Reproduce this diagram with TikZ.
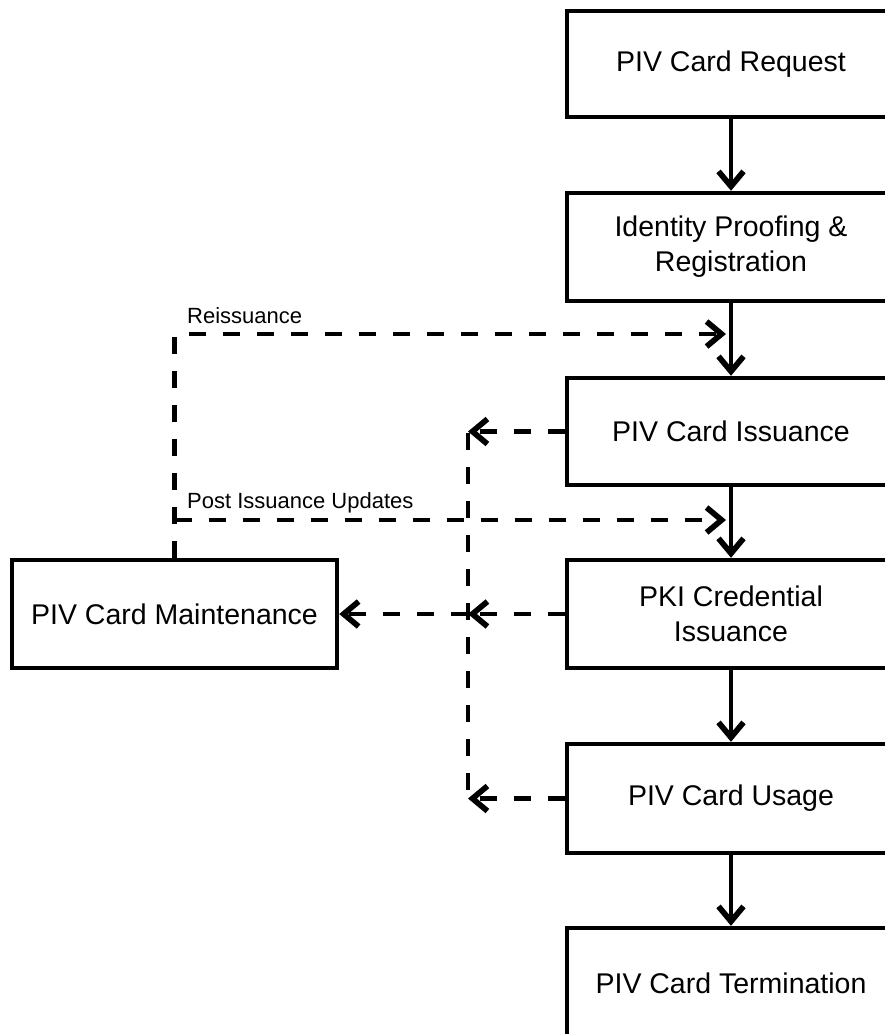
\documentclass[tikz,border=0pt]{standalone}
\usepackage{fontspec}
\setmainfont{Liberation Sans}
\usetikzlibrary{arrows.meta}
\tikzset{
  box/.style={draw, line width=4.4pt, fill=white, minimum width=328pt, minimum height=107pt,
    align=center, inner sep=0pt, font=\fontsize{28.5}{35}\selectfont},
  lbl/.style={inner sep=0pt, font=\fontsize{22}{26}\selectfont},
  tipstyle/.style={-{Straight Barb[length=15pt,width=25pt,line width=0pt 1.35]}},
  solidarrow/.style={line width=4.2pt, tipstyle},
  dashline/.style={line width=4.2pt, dash pattern=on 17pt off 17pt},
  dasharrow/.style={dashline, tipstyle}
}
\begin{document}
\begin{tikzpicture}[x=1pt,y=-1pt]
\useasboundingbox (0,0) rectangle (885,1034);
\clip (0,0) rectangle (885,1034);
\fill[white] (0,0) rectangle (885,1034);

\node[box, minimum height=106pt] (b1) at (731,64) {PIV Card Request};
\node[box, minimum height=108pt] (b2) at (731,247) {Identity Proofing \&\\Registration};
\node[box] (b3) at (731,431.5) {PIV Card Issuance};
\node[box, minimum height=108pt] (b4) at (731,614) {PKI Credential\\Issuance};
\node[box, minimum height=109pt] (b5) at (731,798.5) {PIV Card Usage};
\node[box, minimum height=110pt] (b6) at (731,983) {PIV Card Termination};
\node[box, minimum width=325pt, minimum height=108pt] (m) at (174.5,614) {PIV Card Maintenance};

\draw[solidarrow] (b1.south) -- (b2.north);
\draw[solidarrow] (b2.south) -- (b3.north);
\draw[solidarrow] (b3.south) -- (b4.north);
\draw[solidarrow] (b4.south) -- (b5.north);
\draw[solidarrow] (b5.south) -- (b6.north);

\coordinate (reisTip) at (726,334);
\coordinate (postStart) at (174.5,520);
\coordinate (postTip) at (726,520);
\coordinate (busTop) at (468,433);
\coordinate (busBot) at (468,795);

\draw[dasharrow] (m.north) |- (reisTip);
\draw[dasharrow] (postStart) -- (postTip);
\draw[dashline] (busTop) -- (busBot);
\draw[dasharrow] (b3.west) -- (b3.west -| busTop);
\draw[dasharrow] (b4.west) -- (b4.west -| busTop);
\draw[dasharrow] (b5.west) -- (b5.west -| busTop);
\draw[dasharrow] (b4.west -| busTop) -- (m.east);

\node[lbl, anchor=base west] (reisLbl) at (187,323) {Reissuance};
\node[lbl, anchor=base west] (postLbl) at (187,508) {Post Issuance Updates};
\end{tikzpicture}
\end{document}
